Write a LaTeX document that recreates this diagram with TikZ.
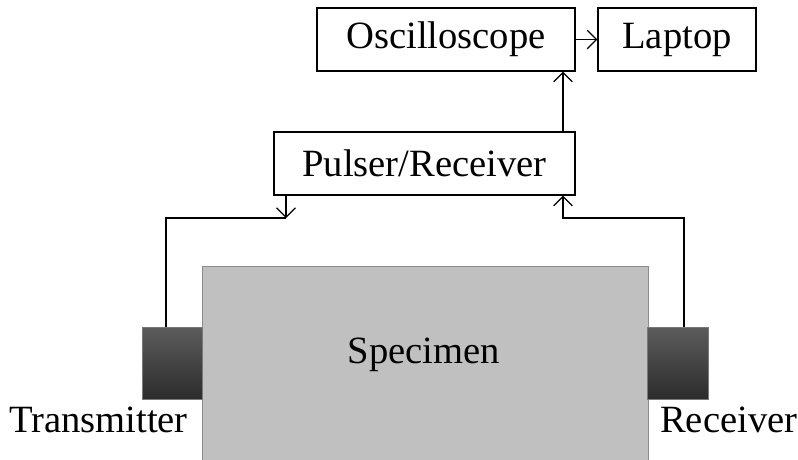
\documentclass[tikz,border=0pt]{standalone}
\usepackage{fontspec}
\setmainfont{Liberation Serif}
\usetikzlibrary{arrows.meta}
\definecolor{specfill}{RGB}{192,192,192}
\definecolor{specedge}{RGB}{140,140,140}
\definecolor{tdtop}{RGB}{92,92,92}
\definecolor{tdbot}{RGB}{44,44,44}
\definecolor{tdedge}{RGB}{120,120,120}
\tikzset{
  box/.style={draw=black, line width=1.2pt, inner sep=0pt, font=\fontsize{38.6}{40}\selectfont},
  wire/.style={draw=black, line width=1.2pt},
  arr/.style={wire, -{Straight Barb[scale=2.4]}},
  lbl/.style={inner sep=0pt, font=\fontsize{38.6}{40}\selectfont},
  transducer/.style={draw=tdedge, line width=1pt, top color=tdtop, bottom color=tdbot, inner sep=0pt}
}
\begin{document}
\begin{tikzpicture}[x=1pt,y=-1pt]
\useasboundingbox (0,0) rectangle (798,459);
\node[box, minimum width=258pt, minimum height=63pt] (osc) at (446,39.5) {Oscilloscope};
\node[box, minimum width=158pt, minimum height=63pt] (laptop) at (677,39.5) {Laptop};
\node[box, minimum width=301pt, minimum height=63pt] (pulser) at (424.5,163.5) {Pulser/Receiver};
\node[draw=specedge, fill=specfill, line width=1pt, minimum width=446pt, minimum height=196pt, inner sep=0pt] (spec) at (425,364) {};
\node[lbl] (spectext) at (424,355) {Specimen};
\node[transducer, minimum width=60pt, minimum height=72pt] (tx) at (172,363) {};
\node[transducer, minimum width=61pt, minimum height=72pt] (rx) at (677.5,363) {};
\node[lbl, anchor=base east] (txl) at (188,432) {Transmitter};
\node[lbl, anchor=base west] (rxl) at (660,432) {Receiver};
\coordinate (txc) at (286,218);
\coordinate (rxc) at (563,218);
% connectors
\draw[arr] (osc.east) -- (laptop.west);
\draw[arr] (pulser.north -| rxc) -- (osc.south -| rxc);
\draw[arr] (pulser.south -| txc) -- (txc);
\draw[wire] (txc) -| (tx.north -| 166,0);
\draw[arr] (rx.north -| 684,0) |- (rxc) -- (pulser.south -| rxc);
\end{tikzpicture}
\end{document}
